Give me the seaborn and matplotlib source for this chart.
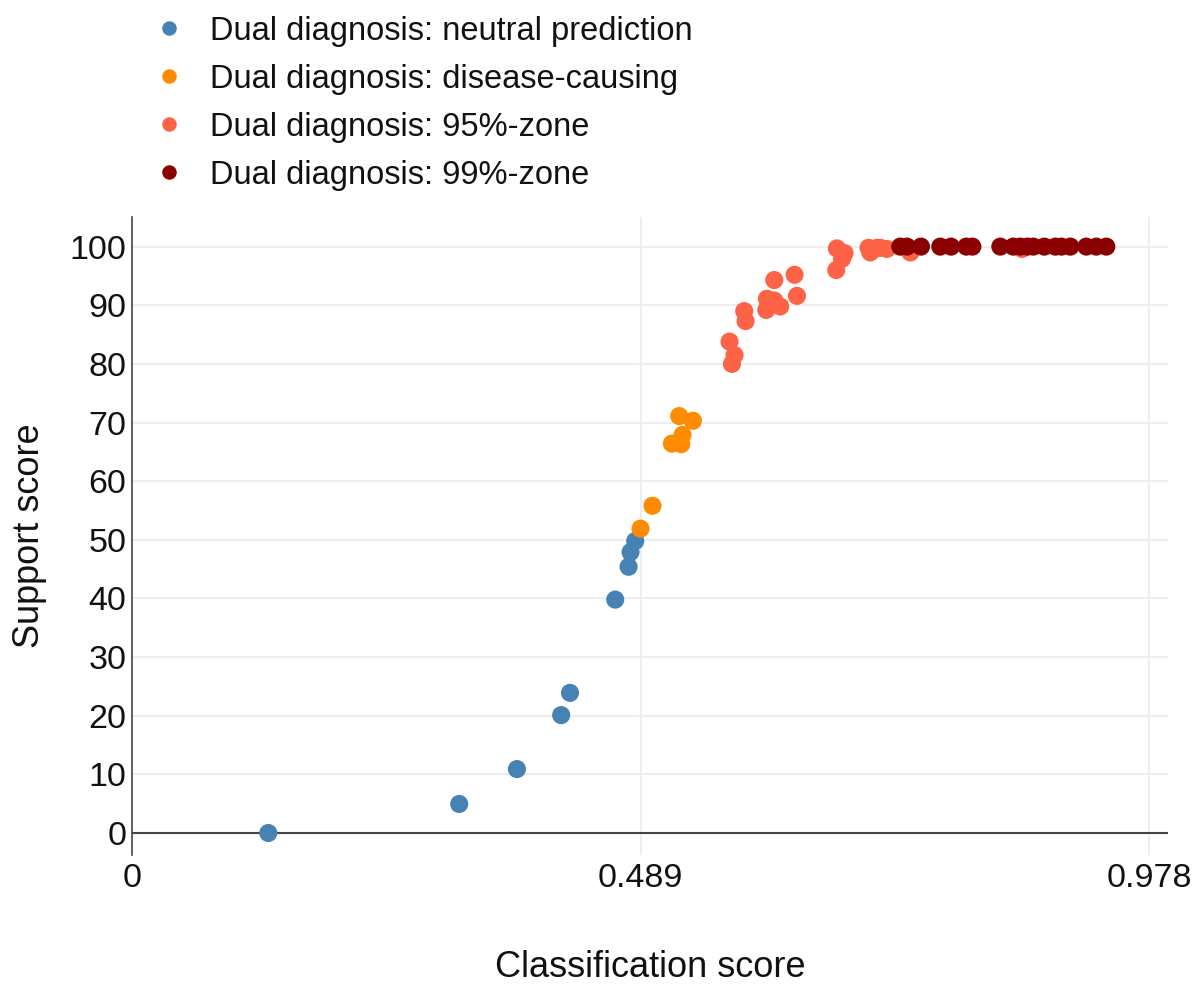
from matplotlib import pyplot as plt
import numpy as np
import pandas as pd
import seaborn as sns

# values
neutral_x = [0.131, 0.3145, 0.370, 0.4125, 0.421, 0.4645, 0.4773, 0.4792, 0.4837]
neutral_y = [0.0, 4.95, 10.9, 20.1, 23.9, 39.8, 45.4, 47.9, 49.8]

causing_x = [0.4888, 0.5003, 0.519, 0.5279, 0.5292, 0.526, 0.5392]
causing_y = [51.9, 55.8, 66.4, 66.3, 67.9, 71.1, 70.3]

zone95_x = [0.5744, 0.5792, 0.5767, 0.5885, 0.5898, 0.6097, 0.6103, 0.6174,
            0.6231, 0.6174, 0.6369, 0.6392, 0.677, 0.6776, 0.685, 0.6825,
            0.708, 0.7097, 0.7161, 0.7257, 0.7193, 0.7482, 0.8556]
zone95_y = [83.8, 81.5, 80.0, 89.0, 87.3, 89.2, 91.1, 90.8,
            89.8, 94.3, 95.2, 91.6, 96.0, 99.7, 98.9, 97.9,
            99.8, 99.0, 99.8, 99.6, 99.8, 99.0, 99.6]

zone99_x = [0.7385, 0.745, 0.7584, 0.777, 0.7873, 0.802, 0.8078, 0.8347,
            0.8472, 0.8539, 0.8607, 0.8664, 0.877, 0.8876, 0.8934, 0.902,
            0.9174, 0.927, 0.9366]
zone99_y = [100.0] * len(zone99_x)

labels = ['Dual diagnosis: neutral prediction',
          'Dual diagnosis: disease-causing',
          'Dual diagnosis: 95%-zone',
          'Dual diagnosis: 99%-zone']
colors = ['#4682B4', '#FF8C00', '#FF6347', '#8B0000']

x_ticks = [0, 0.489, 0.978]
x_tick_labels = ['0', '0.489', '0.978']
y_ticks = list(range(0, 101, 10))

df = pd.concat([
    pd.DataFrame({'x': neutral_x, 'y': neutral_y, 'group': labels[0]}),
    pd.DataFrame({'x': causing_x, 'y': causing_y, 'group': labels[1]}),
    pd.DataFrame({'x': zone95_x, 'y': zone95_y, 'group': labels[2]}),
    pd.DataFrame({'x': zone99_x, 'y': zone99_y, 'group': labels[3]}),
], ignore_index=True)

sns.set_theme(style='white')
plt.rcParams['font.family'] = ['Liberation Sans', 'DejaVu Sans']

fig = plt.figure(figsize=(11.95, 9.85), dpi=100)
ax = fig.add_axes([0.1105, 0.132, 0.867, 0.648])

sns.scatterplot(data=df, x='x', y='y', hue='group', hue_order=labels,
                palette=colors, s=170, linewidth=0, ax=ax, zorder=3)

ax.set_xlim(0, 0.996)
ax.set_ylim(-3.75, 105.1)
ax.set_xticks(x_ticks)
ax.set_xticklabels(x_tick_labels)
ax.set_yticks(y_ticks)
ax.tick_params(axis='both', labelsize=24.5, length=0, colors='#111111')
ax.tick_params(axis='x', pad=6)
ax.tick_params(axis='y', pad=4)

for yv in y_ticks:
    ax.axhline(yv, color='#eeeeee', lw=1.5, zorder=0)
for xv in x_ticks[1:]:
    ax.axvline(xv, color='#eeeeee', lw=1.5, zorder=0)
ax.axhline(0, color='#444444', lw=1.5, zorder=1)

for side in ['top', 'right', 'bottom']:
    ax.spines[side].set_visible(False)
ax.spines['left'].set_color('#444444')
ax.spines['left'].set_linewidth(1.2)

ax.set_xlabel('Classification score', fontsize=26, labelpad=40, color='#111111')
ax.set_ylabel('Support score', fontsize=26, labelpad=16, color='#111111')

handles, _ = ax.get_legend_handles_labels()
ax.get_legend().remove()
leg = fig.legend(handles, labels, loc='upper left', bbox_to_anchor=(0.1036, 1.014),
                 frameon=False, fontsize=23.5, markerscale=0.8, handletextpad=0.75,
                 labelspacing=0.52, handlelength=1.0)
for t in leg.get_texts():
    t.set_color('#111111')

fig.savefig('out.png', dpi=100)
